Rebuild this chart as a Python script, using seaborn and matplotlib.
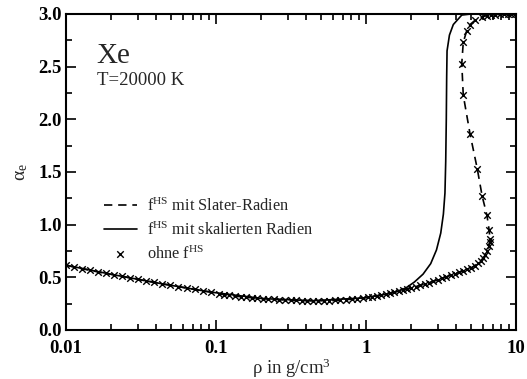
import numpy as np
import pandas as pd
import matplotlib
matplotlib.use("Agg")
import matplotlib.pyplot as plt
import seaborn as sns
from matplotlib.ticker import LogLocator, FixedLocator, NullFormatter, FixedFormatter

# ---- data ----
# curve without f^HS (markers) and with Slater radii (dashed) -- same path
rho_ohne = [0.0100, 0.0113, 0.0128, 0.0145, 0.0164, 0.0185, 0.0210, 0.0237, 0.0268, 0.0303,
            0.0343, 0.0388, 0.0439, 0.0497, 0.0562, 0.0636, 0.0720, 0.0814, 0.0921,
            0.104, 0.113, 0.123, 0.134, 0.146, 0.159, 0.173, 0.188, 0.205, 0.223,
            0.243, 0.265, 0.288, 0.314, 0.342, 0.372, 0.405, 0.441, 0.480, 0.523,
            0.570, 0.620, 0.676, 0.736, 0.801, 0.872, 0.950,
            1.03, 1.10, 1.18, 1.26, 1.35, 1.44, 1.54, 1.65, 1.76, 1.88, 2.01, 2.15,
            2.30, 2.46, 2.63, 2.81, 3.00, 3.21, 3.43, 3.66, 3.91, 4.17, 4.45, 4.73,
            5.02, 5.30, 5.57, 5.82, 6.05, 6.26, 6.45, 6.60, 6.70,
            6.71, 6.62, 6.40, 5.95, 5.52, 4.94, 4.45, 4.35, 4.45, 4.69, 4.94, 5.33,
            5.90, 6.40, 6.85, 7.30, 7.80, 8.30, 8.80, 9.30, 9.80]
alpha_ohne = [0.615, 0.598, 0.582, 0.566, 0.551, 0.537, 0.523, 0.509, 0.495, 0.480,
              0.466, 0.452, 0.438, 0.425, 0.412, 0.398, 0.385, 0.372, 0.360,
              0.343, 0.336, 0.329, 0.322, 0.316, 0.311, 0.306, 0.302, 0.298, 0.294,
              0.291, 0.288, 0.285, 0.283, 0.281, 0.280, 0.279, 0.278, 0.278, 0.278,
              0.279, 0.281, 0.284, 0.288, 0.293, 0.298, 0.304,
              0.310, 0.316, 0.323, 0.331, 0.339, 0.348, 0.357, 0.367, 0.377, 0.388, 0.400, 0.412,
              0.424, 0.436, 0.449, 0.462, 0.475, 0.490, 0.505, 0.519, 0.534, 0.548, 0.561, 0.575,
              0.591, 0.610, 0.632, 0.657, 0.685, 0.716, 0.752, 0.795, 0.840,
              0.860, 0.950, 1.090, 1.270, 1.530, 1.860, 2.230, 2.530, 2.730, 2.840, 2.900, 2.940,
              2.970, 2.985, 2.990, 2.995, 2.997, 2.998, 3.000, 3.000, 3.000]

# curve with scaled radii (solid)
rho_skal = [0.0100, 0.0210, 0.0439, 0.0921, 0.205, 0.441, 0.950, 1.35, 1.60, 1.85,
            2.10, 2.40, 2.70, 2.95, 3.15, 3.28, 3.36, 3.40, 3.43, 3.45, 3.47, 3.60,
            3.82, 4.35, 5.00, 10.0]
alpha_skal = [0.615, 0.523, 0.438, 0.360, 0.298, 0.278, 0.304, 0.339, 0.365, 0.400,
              0.455, 0.530, 0.630, 0.760, 0.920, 1.100, 1.300, 1.600, 2.000, 2.400, 2.650, 2.800,
              2.900, 2.990, 3.000, 3.000]

x_ticks = [0.01, 0.1, 1, 10]
x_ticklabels = ["0.01", "0.1", "1", "10"]
y_ticks = [0.0, 0.5, 1.0, 1.5, 2.0, 2.5, 3.0]
y_ticklabels = ["0.0", "0.5", "1.0", "1.5", "2.0", "2.5", "3.0"]

label_slater = r"f$^{\mathrm{HS}}$ mit Slater-Radien"
label_skal = r"f$^{\mathrm{HS}}$ mit skalierten Radien"
label_ohne = r"ohne f$^{\mathrm{HS}}$"

# ---- style ----
sns.set_theme(style="ticks")
plt.rcParams["font.family"] = ["Liberation Serif", "DejaVu Serif"]
plt.rcParams["mathtext.fontset"] = "custom"
plt.rcParams["mathtext.rm"] = "Liberation Serif"
plt.rcParams["mathtext.it"] = "Liberation Serif:italic"
plt.rcParams["mathtext.bf"] = "Liberation Serif:bold"

df_ohne = pd.DataFrame({"rho": rho_ohne, "alpha": alpha_ohne})
df_skal = pd.DataFrame({"rho": rho_skal, "alpha": alpha_skal})

fig = plt.figure(figsize=(5.27, 3.79), dpi=100)
ax = fig.add_axes([66 / 527, 1 - 330 / 379, 450 / 527, 316 / 379])

sns.lineplot(data=df_ohne, x="rho", y="alpha", sort=False, estimator=None, ax=ax,
             color="black", linewidth=1.2, linestyle=(0, (5, 3.5)), label=label_slater)
sns.lineplot(data=df_skal, x="rho", y="alpha", sort=False, estimator=None, ax=ax,
             color="black", linewidth=1.2, label=label_skal)
sns.scatterplot(data=df_ohne, x="rho", y="alpha", ax=ax, marker="x", color="black",
                s=22, linewidth=1.0, label=label_ohne)

ax.set_xscale("log")
ax.set_xlim(0.01, 10)
ax.set_ylim(0, 3)

ax.xaxis.set_major_locator(FixedLocator(x_ticks))
ax.xaxis.set_major_formatter(FixedFormatter(x_ticklabels))
ax.xaxis.set_minor_locator(LogLocator(base=10, subs=np.arange(2, 10)))
ax.xaxis.set_minor_formatter(NullFormatter())
ax.yaxis.set_major_locator(FixedLocator(y_ticks))
ax.yaxis.set_major_formatter(FixedFormatter(y_ticklabels))
ax.yaxis.set_minor_locator(FixedLocator([0.25, 0.75, 1.25, 1.75, 2.25, 2.75]))

ax.tick_params(which="both", direction="in", top=True, right=True, width=1.2, colors="black")
ax.tick_params(which="major", length=7, labelsize=13.5)
ax.tick_params(axis="x", which="major", pad=7)
ax.tick_params(axis="y", which="major", pad=3)
ax.tick_params(which="minor", length=4)
for lab in ax.get_xticklabels() + ax.get_yticklabels():
    lab.set_fontweight("bold")
for sp in ax.spines.values():
    sp.set_linewidth(1.5)
    sp.set_color("black")

ax.set_xlabel("ρ in g/cm$^3$", fontsize=13.5, labelpad=0)
ax.set_ylabel("α$_\\mathrm{e}$", fontsize=14, labelpad=6)

ax.text(0.068, 0.844, "Xe", transform=ax.transAxes, fontsize=21, ha="left", va="baseline")
ax.text(0.068, 0.775, "T=20000 K", transform=ax.transAxes, fontsize=13.5, ha="left", va="baseline")

leg = ax.legend(loc="upper left", bbox_to_anchor=(0.07, 0.44), frameon=False,
                fontsize=11.8, handlelength=2.0, handletextpad=0.6, labelspacing=0.4,
                borderaxespad=0)

fig.savefig("out.png", dpi=100)
